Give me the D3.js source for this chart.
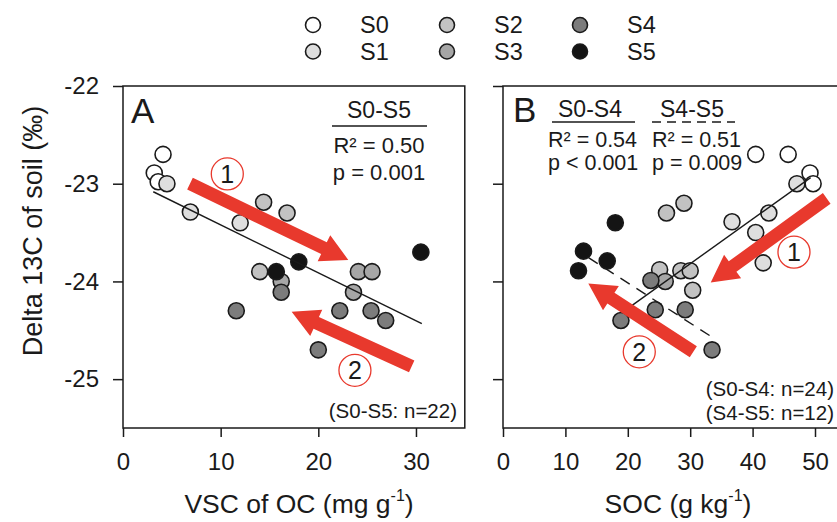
<!DOCTYPE html>
<html>
<head>
<meta charset="utf-8">
<script src="https://cdn.jsdelivr.net/npm/d3@7"></script>
<style>
  body { margin: 0; background: #fff; }
  svg { display: block; }
  text { font-family: "Liberation Sans", Arial, Helvetica, sans-serif; fill: #1a1a1a; }
</style>
</head>
<body>
<svg id="chart" width="837" height="522"></svg>
<script>
// ---- sampling stages ----
const stages = ["S0", "S1", "S2", "S3", "S4", "S5"];
const stageFills = ["#ffffff", "#dedede", "#c2c2c2", "#a6a6a6", "#7c7c7c", "#141414"];

// ---- panel A: VSC of OC (mg g-1) vs soil delta 13C ----
const vscOC = [4.1, 3.2, 3.6, 4.5, 6.9, 12.0, 14.4, 16.8, 14.0, 24.1, 25.5, 23.6, 16.2,
               16.2, 11.6, 22.2, 25.4, 26.9, 20.0, 18.0, 15.7, 30.5];
const d13cA = [-22.70, -22.89, -22.98, -23.00, -23.29, -23.40, -23.19, -23.30, -23.90, -23.90, -23.90, -24.11, -24.00,
               -24.11, -24.30, -24.30, -24.30, -24.40, -24.70, -23.80, -23.90, -23.70];
const stageA = ["S0", "S0", "S0", "S1", "S1", "S1", "S2", "S2", "S2", "S3", "S3", "S3", "S3",
                "S4", "S4", "S4", "S4", "S4", "S4", "S5", "S5", "S5"];

// ---- panel B: SOC (g kg-1) vs soil delta 13C ----
const soc = [40.5, 45.7, 49.2, 49.7, 47.1, 42.6, 36.7, 40.5, 41.7,
             26.2, 29.0, 25.1, 28.5, 30.0, 30.4, 26.0,
             23.7, 24.4, 29.2, 18.9, 33.5, 18.0, 12.9, 16.7, 12.1];
const d13cB = [-22.70, -22.70, -22.89, -23.00, -23.00, -23.30, -23.39, -23.50, -23.81,
               -23.30, -23.20, -23.88, -23.89, -23.89, -24.09, -24.00,
               -23.99, -24.29, -24.29, -24.40, -24.70, -23.40, -23.69, -23.79, -23.89];
const stageB = ["S0", "S0", "S0", "S0", "S1", "S1", "S1", "S1", "S1",
                "S2", "S2", "S2", "S2", "S2", "S2", "S3",
                "S4", "S4", "S4", "S4", "S4", "S5", "S5", "S5", "S5"];

// ---- axes ----
const yDomain = [-25.5, -22];
const yTicks = [-22, -23, -24, -25];
const xDomainA = [0, 35];
const xTicksA = [0, 10, 20, 30];
const xDomainB = [0, 55];
const xTicksB = [0, 10, 20, 30, 40, 50];

// ---- linear fits: [slope, intercept, x start, x end] ----
const fitA = [-0.0491, -22.93, 3.1, 30.6];
const fitB04 = [0.0457, -25.19, 20.3, 49.3];
const fitB45 = [-0.0411, -23.193, 13.7, 33.4];

// ---- trend arrows [x tail, y tail, x tip, y tip] and numbered badges ----
const arrowsA = [[6.86, -23.00, 23.07, -23.78], [29.56, -24.87, 17.27, -24.31]];
const arrowsB = [[51.88, -23.15, 33.29, -24.01], [30.50, -24.72, 13.67, -24.02]];
const badgesA = [[10.68, -22.90, "1"], [23.75, -24.91, "2"]];
const badgesB = [[46.63, -23.70, "1"], [21.84, -24.72, "2"]];

const svg = d3.select("#chart");
const fillOf = d3.scaleOrdinal().domain(stages).range(stageFills);
const plotTop = 86, plotBottom = 428;
const red = "#e8392d";
const ink = "#1a1a1a";

function arrowPath(p0, p1) {
  const dx = p1[0] - p0[0], dy = p1[1] - p0[1];
  const len = Math.hypot(dx, dy);
  const ux = dx / len, uy = dy / len, nx = -uy, ny = ux;
  const w = 6.5, hw = 14.5, hl = 27;
  const bx = p1[0] - ux * hl, by = p1[1] - uy * hl;
  const pts = [
    [p0[0] + nx * w, p0[1] + ny * w],
    [bx + nx * w, by + ny * w],
    [bx + nx * hw, by + ny * hw],
    p1,
    [bx - nx * hw, by - ny * hw],
    [bx - nx * w, by - ny * w],
    [p0[0] - nx * w, p0[1] - ny * w]
  ];
  return "M" + pts.map(p => p.join(",")).join("L") + "Z";
}

function drawPanel(cfg) {
  const x = d3.scaleLinear().domain(cfg.xDomain).range([cfg.left, cfg.right]);
  const y = d3.scaleLinear().domain(yDomain).range([plotBottom, plotTop]);
  const g = svg.append("g");

  // frame
  g.append("rect")
    .attr("x", cfg.left).attr("y", plotTop)
    .attr("width", cfg.right - cfg.left).attr("height", plotBottom - plotTop)
    .attr("fill", "none").attr("stroke", ink).attr("stroke-width", 1.5);

  const yAxis = d3.axisLeft(y).tickValues(yTicks).tickSize(10).tickPadding(14).tickSizeOuter(0)
    .tickFormat(cfg.yLabels ? d3.format("d") : "");
  const ay = g.append("g").attr("transform", `translate(${cfg.left},0)`).call(yAxis);
  const xAxis = d3.axisBottom(x).tickValues(cfg.xTicks).tickSize(9).tickPadding(16).tickSizeOuter(0)
    .tickFormat(d3.format("d"));
  const ax = g.append("g").attr("transform", `translate(0,${plotBottom})`).call(xAxis);
  [ay, ax].forEach(a => {
    a.select(".domain").remove();
    a.selectAll("line").attr("stroke", ink).attr("stroke-width", 1.5);
    a.selectAll("text").attr("font-size", 24).attr("fill", ink)
      .style("font-family", '"Liberation Sans", Arial, sans-serif');
  });
  if (cfg.yLabels) ay.selectAll("text").text(d => String(d));

  // points, lighter stages first so darker ones sit on top
  const pts = cfg.xs.map((v, i) => ({ x: v, y: cfg.ys[i], s: cfg.st[i] }))
    .sort((a, b) => stages.indexOf(a.s) - stages.indexOf(b.s));
  g.append("g").selectAll("circle").data(pts).join("circle")
    .attr("cx", d => x(d.x)).attr("cy", d => y(d.y)).attr("r", 8)
    .attr("fill", d => fillOf(d.s)).attr("stroke", ink).attr("stroke-width", 1.6);

  // fitted lines
  cfg.fits.forEach(f => {
    const [m, b, x0, x1] = f.fit;
    g.append("line")
      .attr("x1", x(x0)).attr("y1", y(m * x0 + b))
      .attr("x2", x(x1)).attr("y2", y(m * x1 + b))
      .attr("stroke", ink).attr("stroke-width", 1.4)
      .attr("stroke-dasharray", f.dashed ? "11,8" : null);
  });

  // arrows
  g.append("g").selectAll("path").data(cfg.arrows).join("path")
    .attr("d", a => arrowPath([x(a[0]), y(a[1])], [x(a[2]), y(a[3])]))
    .attr("fill", red);

  // numbered badges
  const bd = g.append("g").selectAll("g").data(cfg.badges).join("g")
    .attr("transform", b => `translate(${x(b[0])},${y(b[1])})`);
  bd.append("circle").attr("r", 16).attr("fill", "#fff").attr("stroke", red).attr("stroke-width", 1.3);
  bd.append("text").attr("text-anchor", "middle").attr("dy", "0.36em")
    .attr("font-size", 25).text(b => b[2]);

  return { g, x, y };
}

const A = drawPanel({
  left: 123, right: 464.8, xDomain: xDomainA, xTicks: xTicksA, yLabels: true,
  xs: vscOC, ys: d13cA, st: stageA,
  fits: [{ fit: fitA, dashed: false }], arrows: arrowsA, badges: badgesA
});
const B = drawPanel({
  left: 503, right: 846.2, xDomain: xDomainB, xTicks: xTicksB, yLabels: false,
  xs: soc, ys: d13cB, st: stageB,
  fits: [{ fit: fitB04, dashed: false }, { fit: fitB45, dashed: true }], arrows: arrowsB, badges: badgesB
});

// ---- panel A annotations ----
A.g.append("text").attr("x", 131).attr("y", 123).attr("font-size", 35).text("A");
A.g.append("text").attr("x", 379).attr("y", 118).attr("text-anchor", "middle").attr("font-size", 23).text("S0-S5");
A.g.append("line").attr("x1", 332).attr("x2", 427).attr("y1", 126).attr("y2", 126)
  .attr("stroke", ink).attr("stroke-width", 1.5);
A.g.append("text").attr("x", 379).attr("y", 153).attr("text-anchor", "middle").attr("font-size", 22).text("R² = 0.50");
A.g.append("text").attr("x", 379).attr("y", 180).attr("text-anchor", "middle").attr("font-size", 22).text("p = 0.001");
A.g.append("text").attr("x", 457).attr("y", 418).attr("text-anchor", "end").attr("font-size", 20.5).text("(S0-S5: n=22)");

// ---- panel B annotations ----
B.g.append("text").attr("x", 513).attr("y", 122).attr("font-size", 35).text("B");
B.g.append("text").attr("x", 590).attr("y", 117).attr("text-anchor", "middle").attr("font-size", 23).text("S0-S4");
B.g.append("line").attr("x1", 552).attr("x2", 635).attr("y1", 122).attr("y2", 122)
  .attr("stroke", ink).attr("stroke-width", 1.5);
B.g.append("text").attr("x", 692).attr("y", 117).attr("text-anchor", "middle").attr("font-size", 23).text("S4-S5");
B.g.append("line").attr("x1", 652).attr("x2", 735).attr("y1", 122).attr("y2", 122)
  .attr("stroke", ink).attr("stroke-width", 1.5).attr("stroke-dasharray", "9,6");
B.g.append("text").attr("x", 548).attr("y", 147).attr("font-size", 21.5).text("R² = 0.54");
B.g.append("text").attr("x", 548).attr("y", 170).attr("font-size", 21.5).text("p < 0.001");
B.g.append("text").attr("x", 652).attr("y", 147).attr("font-size", 21.5).text("R² = 0.51");
B.g.append("text").attr("x", 652).attr("y", 170).attr("font-size", 21.5).text("p = 0.009");
B.g.append("text").attr("x", 834).attr("y", 396).attr("text-anchor", "end").attr("font-size", 20.5).text("(S0-S4: n=24)");
B.g.append("text").attr("x", 834).attr("y", 420).attr("text-anchor", "end").attr("font-size", 20.5).text("(S4-S5: n=12)");

// ---- axis titles ----
function unitTitle(cx, main, sup) {
  const t = svg.append("text").attr("x", cx).attr("y", 513).attr("text-anchor", "middle").attr("font-size", 26.5);
  t.append("tspan").text(main);
  t.append("tspan").attr("font-size", 16).attr("dy", -12).text(sup);
  t.append("tspan").attr("dy", 12).text(")");
}
unitTitle(299, "VSC of OC (mg g", "-1");
unitTitle(678, "SOC (g kg", "-1");
svg.append("text").attr("transform", "translate(42,231) rotate(-90)")
  .attr("text-anchor", "middle").attr("font-size", 27).text("Delta 13C of soil (‰)");

// ---- legend ----
const legendCols = [313, 447, 580], legendRows = [25, 51.5];
const lg = svg.append("g").selectAll("g").data(stages).join("g")
  .attr("transform", (s, i) => `translate(${legendCols[Math.floor(i / 2)]},${legendRows[i % 2]})`);
lg.append("circle").attr("r", 7.5).attr("fill", s => fillOf(s)).attr("stroke", ink).attr("stroke-width", 1.6);
lg.append("text").attr("x", 47).attr("dy", "0.36em").attr("font-size", 23.5).text(s => s);
</script>
</body>
</html>
